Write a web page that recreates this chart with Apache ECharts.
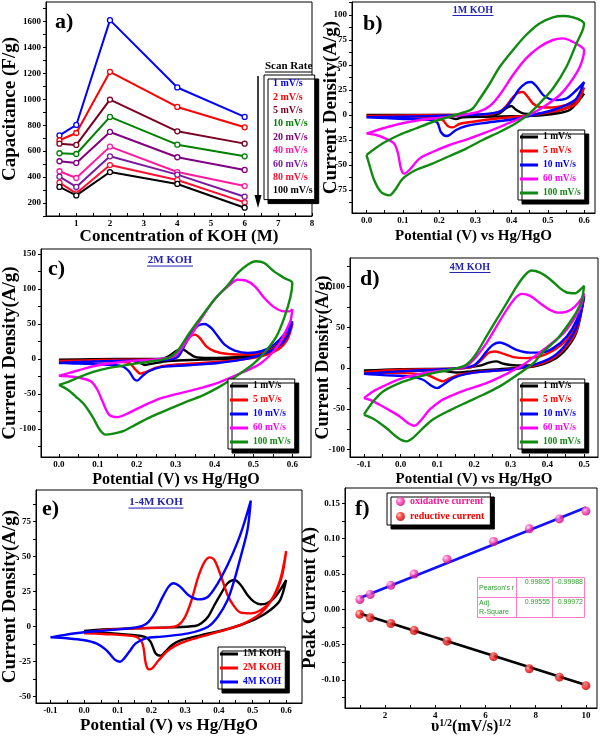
<!DOCTYPE html>
<html><head><meta charset="utf-8">
<script src="https://cdn.jsdelivr.net/npm/echarts@6/dist/echarts.min.js"></script>
<style>html,body{margin:0;padding:0;background:#fff}#c{width:600px;height:739px}</style>
</head><body><div id="c"></div>
<script>
// ---------- DATA ----------
// Panel a: capacitance vs KOH concentration
const concKOH = [0.5, 1, 2, 4, 6];
const scanRatesA = ['1 mV/s','2 mV/s','5 mV/s','10 mV/s','20 mV/s','40 mV/s','60 mV/s','80 mV/s','100 mV/s'];
const cap1   = [722, 802, 1610, 1091, 864];
const cap2   = [684, 740, 1212, 941, 784];
const cap5   = [658, 648, 998, 753, 658];
const cap10  = [584, 578, 864, 650, 560];
const cap20  = [522, 509, 748, 553, 455];
const cap40  = [445, 393, 635, 439, 331];
const cap60  = [403, 324, 560, 419, 249];
const cap80  = [357, 275, 493, 378, 205];
const cap100 = [324, 259, 439, 347, 164];

// Panel b: 1M KOH CVs  [potential V, current A/g]
const b1 = [[0,0],[0.2,0],[0.34,0],[0.367,1.7],[0.385,6.7],[0.399,9],[0.413,5],[0.431,1.7],[0.459,1],[0.514,3.3],[0.56,8.4],[0.6,21.5],
  [0.56,5],[0.514,1],[0.459,-0.7],[0.33,-1.7],[0.265,-2.3],[0.247,-4],[0.229,-2.3],[0.2,-0.7],[0.1,-0.3],[0,0]];
const b5 = [[0,-1],[0.1,-0.5],[0.2,0],[0.33,0.3],[0.367,3.3],[0.385,9],[0.404,18],[0.417,22],[0.431,23],[0.445,18],[0.459,11.5],[0.477,8],[0.514,7.5],[0.551,10],[0.579,15],[0.6,27.5],
  [0.579,11.5],[0.533,5],[0.459,0],[0.367,-3.3],[0.293,-6.7],[0.256,-9],[0.238,-12.4],[0.224,-11],[0.21,-5],[0.182,-2.3],[0.1,-1.5],[0,-1]];
const b10 = [[0,-2.3],[0.09,-1.7],[0.18,-1],[0.275,0],[0.33,1],[0.367,3.3],[0.385,8],[0.404,16.5],[0.42,25.5],[0.44,32],[0.454,33],[0.468,29],[0.487,20],[0.505,16],[0.523,15],[0.551,16.5],[0.579,25],[0.6,33],
  [0.579,16.5],[0.551,10],[0.514,5],[0.459,0],[0.404,-4.3],[0.33,-7.7],[0.275,-11],[0.247,-15],[0.229,-20],[0.22,-21],[0.205,-17],[0.196,-8],[0.182,-5],[0.09,-3.7],[0,-2.3]];
const b60 = [[0,-18.6],[0.044,-13.5],[0.09,-9],[0.136,-5.7],[0.182,-3.5],[0.229,-1.7],[0.275,0.7],[0.31,3.3],[0.34,9],[0.367,20],[0.404,40],[0.44,56.6],[0.477,68],[0.514,75],[0.542,76.6],[0.57,73],[0.593,68],[0.6,65],
  [0.588,48],[0.56,31.5],[0.533,20],[0.496,10],[0.459,2],[0.413,-5],[0.367,-12],[0.32,-18.6],[0.275,-24.6],[0.229,-30],[0.182,-37],[0.146,-43.6],[0.118,-55],[0.104,-58.6],[0.095,-53.6],[0.087,-38.6],[0.076,-28.6],[0.053,-23.6],[0.026,-20],[0,-18.6]];
const b100 = [[0,-40],[0.044,-28.6],[0.09,-20],[0.136,-13.5],[0.182,-7],[0.229,-1.7],[0.275,3.3],[0.293,6.5],[0.31,15],[0.34,31.5],[0.367,48],[0.404,65],[0.44,80],[0.477,91.6],[0.514,97.7],[0.542,99],[0.57,97.7],[0.593,94.3],[0.6,91],
  [0.579,71.6],[0.551,48],[0.514,26.5],[0.477,11.5],[0.45,1.7],[0.413,-8],[0.367,-17],[0.32,-25],[0.275,-33.6],[0.229,-41],[0.182,-48.6],[0.136,-55],[0.1,-63.6],[0.081,-73.7],[0.063,-80.4],[0.04,-77],[0.021,-65],[0.007,-48.6],[0,-40]];

// Panel c: 2M KOH CVs
const c1 = [[0,-1],[0.15,0],[0.26,0],[0.282,3.8],[0.3,11],[0.316,14.3],[0.333,8.6],[0.35,2.9],[0.384,1.4],[0.452,2.4],[0.52,8.6],[0.562,20.5],[0.6,51],
  [0.579,23],[0.536,7.6],[0.469,1.4],[0.367,-1],[0.282,-2.9],[0.24,-6.7],[0.222,-8.6],[0.205,-4.8],[0.18,-1.9],[0,-1]];
const c5 = [[0,-3],[0.112,-1.5],[0.24,-1],[0.282,-0.5],[0.3,3.8],[0.312,11],[0.324,22.9],[0.337,32],[0.35,34.8],[0.362,30],[0.379,18],[0.4,11],[0.435,7],[0.486,6.2],[0.536,11],[0.57,22.9],[0.6,50],
  [0.587,27.6],[0.562,13],[0.52,3.8],[0.452,-1.9],[0.367,-5.7],[0.282,-9],[0.248,-12.9],[0.222,-19],[0.21,-21],[0.197,-15.2],[0.18,-5.7],[0.112,-3.3],[0,-3]];
const c10 = [[0,-5.7],[0.112,-3.3],[0.24,-2],[0.282,-1],[0.307,3.8],[0.324,20.5],[0.341,37],[0.358,47.6],[0.375,50],[0.392,44],[0.409,32],[0.426,20.5],[0.452,12],[0.486,8.6],[0.52,11],[0.553,20.5],[0.579,35],[0.6,54],
  [0.587,32],[0.562,17],[0.52,6],[0.469,-1],[0.409,-5.7],[0.333,-9],[0.265,-11.4],[0.231,-17.6],[0.214,-24.8],[0.201,-31],[0.193,-28.6],[0.18,-17.6],[0.163,-10.5],[0.112,-8],[0.027,-6.2],[0,-5.7]];
const c60 = [[0,-24],[0.027,-20],[0.07,-13],[0.112,-8],[0.154,-4.8],[0.197,-2.4],[0.24,-1],[0.282,1.4],[0.3,4.8],[0.316,15.7],[0.341,34.8],[0.367,58.6],[0.4,85],[0.435,104],[0.46,113],[0.48,112],[0.503,104],[0.528,87],[0.553,74],[0.579,68],[0.592,68],[0.6,71],
  [0.596,56],[0.587,44],[0.562,18],[0.52,-5.7],[0.469,-20],[0.409,-34],[0.333,-46],[0.265,-55.7],[0.214,-67.6],[0.18,-77],[0.15,-83],[0.129,-79.5],[0.112,-60.5],[0.099,-44],[0.082,-32],[0.053,-27],[0.027,-25],[0,-24]];
const c100 = [[0,-37],[0.027,-32],[0.07,-22],[0.112,-15],[0.154,-10.5],[0.197,-6.7],[0.24,-3.3],[0.273,0],[0.29,4],[0.307,13],[0.333,35],[0.367,61],[0.4,85],[0.435,106],[0.46,123],[0.486,135],[0.507,139.5],[0.528,137],[0.553,125],[0.579,115.7],[0.6,108.6],
  [0.595,88],[0.58,60],[0.56,33],[0.53,10],[0.5,-7],[0.47,-19],[0.443,-29.5],[0.409,-41],[0.37,-52],[0.333,-60],[0.29,-70],[0.239,-82],[0.2,-93],[0.165,-103],[0.137,-107],[0.12,-108],[0.105,-101],[0.087,-83],[0.065,-65],[0.044,-54],[0.023,-44],[0,-37]];

// Panel d: 4M KOH CVs
const d1 = [[-0.1,-3],[-0.003,-1.2],[0.161,-0.4],[0.216,3],[0.243,7],[0.261,8.2],[0.28,5.3],[0.316,3.3],[0.362,3.7],[0.407,10.2],[0.453,28.6],[0.48,53],[0.5,87],
  [0.48,45],[0.453,24.5],[0.416,10.2],[0.362,2],[0.27,-1.2],[0.216,-2.9],[0.18,-4.5],[0.152,-5.3],[0.125,-4],[0.088,-2.9],[-0.1,-3]];
const d5 = [[-0.1,-5],[-0.003,-2],[0.161,-0.4],[0.198,2],[0.22,10],[0.239,18.4],[0.257,20.4],[0.275,18.4],[0.307,13.5],[0.343,12.2],[0.38,14.3],[0.416,21.6],[0.453,34.7],[0.48,55],[0.5,88.6],
  [0.48,47],[0.453,27.3],[0.416,12.2],[0.362,2.9],[0.289,-2],[0.216,-4.5],[0.161,-8.2],[0.129,-13.5],[0.116,-16.3],[0.098,-13.5],[0.07,-8.2],[-0.003,-6],[-0.1,-5]];
const d10 = [[-0.1,-7],[-0.003,-4],[0.088,-2],[0.161,0],[0.198,2.9],[0.216,10],[0.234,20.4],[0.252,28.6],[0.27,31.4],[0.289,28.6],[0.316,22.4],[0.353,19],[0.38,19],[0.416,24.5],[0.453,38.8],[0.48,59],[0.5,87.8],
  [0.48,51],[0.453,30.6],[0.416,14.3],[0.362,4],[0.307,-1.2],[0.234,-4],[0.18,-7],[0.143,-12.2],[0.116,-20.4],[0.1,-24.5],[0.084,-21.6],[0.061,-14.3],[0.025,-10.2],[-0.048,-8.6],[-0.1,-7]];
const d60 = [[-0.1,-36.7],[-0.075,-28.6],[-0.048,-22.4],[-0.003,-13.5],[0.043,-8],[0.088,-4.5],[0.134,-2],[0.17,0.8],[0.189,6],[0.207,14.3],[0.234,30.6],[0.261,51],[0.289,71.4],[0.312,85.7],[0.33,91],[0.353,88.6],[0.38,79.6],[0.407,71.4],[0.43,68],[0.453,69.4],[0.475,75.5],[0.494,85.7],[0.5,91.8],
  [0.489,73.5],[0.471,59],[0.444,42.9],[0.407,28.6],[0.371,16.3],[0.334,4],[0.289,-7],[0.234,-18.4],[0.18,-26.5],[0.134,-34.7],[0.107,-40.8],[0.079,-51],[0.057,-63],[0.038,-70.6],[0.02,-67.3],[-0.003,-59],[-0.03,-51.8],[-0.057,-45],[-0.08,-39.6],[-0.1,-36.7]];
const d100 = [[-0.1,-57],[-0.075,-41],[-0.048,-28.6],[-0.003,-18.4],[0.043,-11.4],[0.088,-6],[0.134,-2],[0.17,2],[0.189,8],[0.207,18.4],[0.234,38.8],[0.261,59],[0.289,79.6],[0.316,100],[0.339,114],[0.357,119.6],[0.38,117],[0.407,109],[0.434,98],[0.453,92.7],[0.475,91.8],[0.494,98],[0.5,101],
  [0.494,83.7],[0.48,69.4],[0.453,51],[0.425,34.7],[0.389,20.4],[0.362,6],[0.325,-6],[0.27,-22.4],[0.225,-32.7],[0.18,-42],[0.134,-51.8],[0.088,-63],[0.061,-73.5],[0.038,-83.7],[0.016,-89.8],[-0.007,-85.7],[-0.039,-73.5],[-0.071,-63],[-0.1,-57]];

// Panel e: 1-4M KOH comparison
const e1M = [[0,-3.1],[0.056,-1.9],[0.153,-1.2],[0.251,-0.5],[0.329,0.5],[0.348,2.4],[0.368,7.1],[0.387,15.5],[0.407,23.8],[0.426,31],[0.446,33.3],[0.465,29.8],[0.485,22.6],[0.504,17.9],[0.524,16],[0.543,16.7],[0.563,20.2],[0.582,26.2],[0.6,33.3],
  [0.582,19],[0.553,11.9],[0.514,6],[0.465,1.2],[0.407,-2.9],[0.348,-6],[0.29,-9.5],[0.261,-13.1],[0.241,-17.9],[0.227,-20.7],[0.212,-19],[0.197,-10.7],[0.178,-7.1],[0.105,-5.2],[0,-3.1]];
const e2M = [[0,-4.8],[0.056,-2.4],[0.153,-1.2],[0.251,-0.5],[0.28,1.2],[0.3,7.1],[0.319,19],[0.339,35.7],[0.358,46.4],[0.373,49.5],[0.387,47.6],[0.407,35.7],[0.426,22.6],[0.446,14.3],[0.465,10],[0.495,9.5],[0.524,11.9],[0.553,17.9],[0.582,33.3],[0.6,54],
  [0.587,35.7],[0.563,21.4],[0.524,9.5],[0.475,2.4],[0.417,-2.4],[0.348,-7.1],[0.29,-11.4],[0.251,-16.7],[0.222,-23.8],[0.202,-29.8],[0.192,-30.5],[0.183,-26.2],[0.173,-11.9],[0.153,-7.1],[0.056,-5.2],[0,-4.8]];
const e4M = [[-0.1,-7.6],[-0.061,-6],[0,-4],[0.056,-2.9],[0.134,-1.2],[0.173,0.5],[0.192,3.6],[0.212,10.7],[0.231,20.2],[0.251,28.6],[0.265,31],[0.285,28.6],[0.309,22.6],[0.339,19.5],[0.368,21.4],[0.397,31],[0.426,44],[0.456,60.7],[0.475,73.8],[0.495,90],
  [0.485,69],[0.465,50],[0.446,33.3],[0.426,19],[0.397,7.1],[0.368,0],[0.309,-4.8],[0.231,-7.1],[0.183,-8.3],[0.153,-11.9],[0.134,-17.9],[0.119,-22.6],[0.107,-25],[0.09,-23.3],[0.066,-16.7],[0.036,-11.9],[-0.003,-9.5],[-0.051,-8.3],[-0.1,-7.6]];

// Panel f: peak current vs sqrt(scan rate)
const sqrtRate = [1, 1.414, 2.236, 3.162, 4.472, 6.325, 7.746, 8.944, 10];
const oxPeak  = [0.014, 0.021, 0.034, 0.050, 0.071, 0.096, 0.114, 0.128, 0.139];
const redPeak = [-0.007, -0.012, -0.020, -0.030, -0.045, -0.067, -0.084, -0.096, -0.108];
const oxFit  = [[1, 0.016], [10, 0.144]];
const redFit = [[1, -0.006], [10, -0.107]];
const fitStats = {pearson: ['0.99805', '-0.99988'], adjR2: ['0.99555', '0.99972']};

// Tick label values
const aXLabels = [1,2,3,4,5,6,7,8];
const aYLabels = [200,400,600,800,1000,1200,1400,1600];
const bYLabels = [-75,-50,-25,0,25,50,75,100];
const cYLabels = [-100,-50,0,50,100,150];
const dYLabels = [-100,-50,0,50,100];
const eYLabels = [-50,-25,0,25,50,75];
const fXLabels = [2,4,6,8,10];
const fYLabels = [-0.10,-0.05,0.00,0.05,0.10,0.15];
const pot06 = [0,0.1,0.2,0.3,0.4,0.5,0.6];
const potD = [-0.1,0,0.1,0.2,0.3,0.4,0.5];
const potE = [-0.1,0,0.1,0.2,0.3,0.4,0.5,0.6];

// ---------- CHART ----------
const FONT = '"Liberation Serif","Times New Roman",serif';
const SANS = '"Liberation Sans",Arial,sans-serif';
const rng = (a,b,s) => { const r=[]; for (let v=a; v<=b+s*1e-6; v+=s) r.push(Math.round(v*1e6)/1e6); return r; };
const f1 = v => v.toFixed(1), f2 = v => v.toFixed(2), f0 = v => String(v);

const grids = [
  {left:42, top:2, width:270, height:214},
  {left:352, top:2, width:243, height:211},
  {left:38, top:249, width:273, height:208},
  {left:350, top:258, width:248, height:199},
  {left:32, top:490, width:270, height:213},
  {left:345, top:488, width:252, height:220}
].map(g => Object.assign({show:true, borderColor:'#000', borderWidth:1, backgroundColor:'#fff'}, g));

function ax(dim, gi, min, max, labels, ticks, fmt, name, nameSize, nameGap) {
  return {
    type:'value', gridIndex:gi, min, max, name, nameLocation:'middle', nameGap, nameMoveOverlap:false,
    nameTextStyle:{fontFamily:FONT, fontWeight:'bold', fontSize:nameSize, color:'#000'},
    axisLine:{show:true, onZero:false, lineStyle:{color:'#000', width:1}},
    axisTick:{show:true, inside: dim==='x', length:3, customValues:ticks, lineStyle:{color:'#000', width:1}},
    axisLabel:{show:true, customValues:labels, formatter:fmt, margin: dim==='x'?3:5,
      fontFamily:FONT, fontWeight:'bold', fontSize:9, color:'#000'},
    splitLine:{show:false}
  };
}

const xAxes = [
  ax('x',0,0.1,8,aXLabels,rng(0.5,8,0.5),f0,'Concentration of KOH (M)',17,12.5),
  ax('x',1,-0.04,0.63,pot06,rng(0,0.6,0.05),f1,'Potential (V) vs Hg/HgO',15,16),
  ax('x',2,-0.046,0.648,pot06,rng(0,0.6,0.05),f1,'Potential (V) vs Hg/HgO',16,15),
  ax('x',3,-0.138,0.538,potD,rng(-0.1,0.5,0.05),f1,'Potential (V) vs Hg/HgO',15,15),
  ax('x',4,-0.143,0.647,potE,rng(-0.1,0.6,0.05),f1,'Potential (V) vs Hg/HgO',17,14),
  Object.assign(ax('x',5,0.41,10.44,fXLabels,rng(1,10,1),f0,'υ{s|1/2}(mV/s){s|1/2}',16,10),
    {nameTextStyle:{fontFamily:FONT, fontWeight:'bold', fontSize:16, color:'#000', lineHeight:18,
      rich:{s:{fontFamily:FONT, fontWeight:'bold', fontSize:10, verticalAlign:'top', lineHeight:18, padding:[0,0,8,0]}}}})
];
const yAxes = [
  ax('y',0,100,1750,aYLabels,rng(100,1700,100),f0,'Capacitance (F/g)',19,26),
  ax('y',1,-98,113,bYLabels,rng(-87.5,112.5,12.5),f0,'Current Density(A/g)',19,11.5),
  ax('y',2,-140,157,cYLabels,rng(-125,150,25),f0,'Current Density(A/g)',19,21),
  ax('y',3,-109,135,dYLabels,rng(-100,125,25),f0,'Current Density(A/g)',18,17.5),
  ax('y',4,-54.5,97.6,eYLabels,rng(-50,87.5,12.5),f0,'Current Density(A/g)',19,16),
  ax('y',5,-0.1396,0.1717,fYLabels,rng(-0.125,0.15,0.025),f2,'Peak Current (A)',19,25)
];

const series = [];
// Panel a
const colA = ['#0000ff','#ff0000','#7a0022','#008000','#800080','#ff1aa0','#7a1aa0','#ff1030','#000000'];
const capSets = [cap1,cap2,cap5,cap10,cap20,cap40,cap60,cap80,cap100];
capSets.forEach((vals,i) => {
  series.push({type:'line', name:'a|'+scanRatesA[i], xAxisIndex:0, yAxisIndex:0,
    data: concKOH.map((x,k)=>[x, vals[k]]), symbol:'circle', symbolSize:5,
    lineStyle:{color:colA[i], width:2}, itemStyle:{color:'#fff', borderColor:colA[i], borderWidth:1.3}, z:2});
});
// CV panels
const cvCols = ['#000000','#ff0000','#0000ff','#ff00ff','#108a10'];
const cvNames = ['1 mV/s','5 mV/s','10 mV/s','60 mV/s','100 mV/s'];
function cv(tag, gi, name, data, color) {
  series.push({type:'line', name:tag+'|'+name, xAxisIndex:gi, yAxisIndex:gi, data, showSymbol:false, symbol:'none',
    smooth:0.3, lineStyle:{color, width:2.4}, itemStyle:{color}, z:2});
}
[b1,b5,b10,b60,b100].forEach((d,i)=>cv('b',1,cvNames[i],d,cvCols[i]));
[c1,c5,c10,c60,c100].forEach((d,i)=>cv('c',2,cvNames[i],d,cvCols[i]));
[d1,d5,d10,d60,d100].forEach((d,i)=>cv('d',3,cvNames[i],d,cvCols[i]));
const eNames = ['1M KOH','2M KOH','4M KOH'], eCols = ['#000000','#ff0000','#0000ff'];
[e1M,e2M,e4M].forEach((d,i)=>cv('e',4,eNames[i],d,eCols[i]));
// Panel f
const sphere = (hi, mid, lo) => ({type:'radial', x:0.35, y:0.35, r:0.7, colorStops:[{offset:0,color:hi},{offset:0.45,color:mid},{offset:1,color:lo}]});
series.push({type:'line', name:'fitOx', xAxisIndex:5, yAxisIndex:5, data:oxFit, showSymbol:false, symbol:'none', lineStyle:{color:'#1010ff', width:2.6}, z:2});
series.push({type:'line', name:'fitRed', xAxisIndex:5, yAxisIndex:5, data:redFit, showSymbol:false, symbol:'none', lineStyle:{color:'#000', width:2.6}, z:2});
series.push({type:'scatter', name:'f|oxidative current', xAxisIndex:5, yAxisIndex:5, data: sqrtRate.map((x,i)=>[x, oxPeak[i]]),
  symbolSize:9, itemStyle:{color:sphere('#ffd6f0','#ff40b4','#c00078')}, z:3});
series.push({type:'scatter', name:'f|reductive current', xAxisIndex:5, yAxisIndex:5, data: sqrtRate.map((x,i)=>[x, redPeak[i]]),
  symbolSize:9, itemStyle:{color:sphere('#ffc8c8','#ff2020','#b00000')}, z:3});

// Legends
const fmtName = n => n.split('|')[1];
const legBase = {orient:'vertical', itemGap:0, selectedMode:false, backgroundColor:'#fff', borderColor:'#000', borderWidth:1,
  shadowColor:'#000', shadowOffsetX:4, shadowOffsetY:4, shadowBlur:0, formatter:fmtName};
function cvLegend(tag, names, cols, left, top) {
  return Object.assign({}, legBase, {left, top, icon:'rect', itemWidth:18, itemHeight:3, padding:[0,4,0,2],
    textStyle:{fontFamily:FONT, fontWeight:'bold', fontSize:9.5, lineHeight:14},
    data: names.map((n,i)=>({name:tag+'|'+n, textStyle:{color:cols[i]}}))});
}
const legends = [
  Object.assign({}, legBase, {left:264, top:75, icon:'rect', itemWidth:0, itemHeight:0, padding:[2,2,2,3],
    textStyle:{fontFamily:FONT, fontWeight:'bold', fontSize:10, lineHeight:13.4},
    data: scanRatesA.map((n,i)=>({name:'a|'+n, textStyle:{color:colA[i]}}))}),
  cvLegend('b', cvNames, cvCols, 518, 130),
  cvLegend('c', cvNames, cvCols, 228, 379),
  cvLegend('d', cvNames, cvCols, 518, 379),
  cvLegend('e', eNames, eCols, 218, 647),
  Object.assign({}, legBase, {left:387, top:493, icon:'circle', itemWidth:9, itemHeight:9, padding:[1,6,1,9], itemGap:0,
    textStyle:{fontFamily:FONT, fontWeight:'bold', fontSize:10, lineHeight:15},
    data:[{name:'f|oxidative current', textStyle:{color:'#ff1493'}}, {name:'f|reductive current', textStyle:{color:'#ff0000'}}]})
];

// Graphic annotations
const g = [];
const lab = (t,x,y) => g.push({type:'text', x, y, style:{text:t, font:'bold 22px '+FONT, fill:'#000', textVerticalAlign:'top'}});
lab('a)',55,11); lab('b)',363,13); lab('c)',48,258); lab('d)',360,268); lab('e)',42,498); lab('f)',355,498);
function uTitle(t, cx, cy, size, w) {
  g.push({type:'text', x:cx, y:cy, style:{text:t, font:'bold '+size+'px '+FONT, fill:'#2424b4', textAlign:'center', textVerticalAlign:'middle'}});
  g.push({type:'line', shape:{x1:cx-w/2, y1:cy+size*0.55, x2:cx+w/2, y2:cy+size*0.55}, style:{stroke:'#2424b4', lineWidth:1}});
}
uTitle('1M KOH', 473, 10, 10, 41);
uTitle('2M KOH', 170, 260, 11, 46);
uTitle('4M KOH', 470, 267, 10, 41);
uTitle('1-4M KOH', 156, 502, 11, 55);
// Scan rate heading + arrow (panel a)
g.push({type:'text', x:265, y:66, style:{text:'Scan Rate', font:'bold 11px '+FONT, fill:'#000', textVerticalAlign:'middle'}});
g.push({type:'line', shape:{x1:265, y1:72, x2:312, y2:72}, style:{stroke:'#000', lineWidth:1}});
g.push({type:'line', shape:{x1:258, y1:76, x2:258, y2:198}, style:{stroke:'#000', lineWidth:1.5}});
g.push({type:'polygon', shape:{points:[[254.5,195],[261.5,195],[258,208]]}, style:{fill:'#000'}});
// Fit statistics table (panel f)
const pk = '#ff7ccc', gr = '#2e9e2e', tf = '7px '+SANS;
g.push({type:'rect', shape:{x:477.5, y:577.5, width:107, height:40}, style:{fill:'#fff', stroke:pk, lineWidth:1}, z:5});
g.push({type:'line', shape:{x1:516.5, y1:577.5, x2:516.5, y2:617.5}, style:{stroke:pk, lineWidth:1}, z:5});
g.push({type:'line', shape:{x1:552.5, y1:577.5, x2:552.5, y2:617.5}, style:{stroke:pk, lineWidth:1}, z:5});
g.push({type:'line', shape:{x1:477.5, y1:597.5, x2:584.5, y2:597.5}, style:{stroke:pk, lineWidth:1}, z:5});
const tt = (t,x,y,al) => g.push({type:'text', x, y, z:6, style:{text:t, font:tf, fill:gr, textAlign:al||'left', textVerticalAlign:'middle'}});
tt("Pearson's r", 479, 588); tt(fitStats.pearson[0], 550, 582, 'right'); tt(fitStats.pearson[1], 583, 582, 'right');
tt('Adj.', 479, 603); tt('R-Square', 479, 612); tt(fitStats.adjR2[0], 550, 602, 'right'); tt(fitStats.adjR2[1], 583, 602, 'right');

const chart = echarts.init(document.getElementById('c'), null, {renderer:'canvas'});
chart.setOption({
  animation:false, backgroundColor:'#fff',
  grid:grids, xAxis:xAxes, yAxis:yAxes, series, legend:legends, graphic:g
});
</script></body></html>
